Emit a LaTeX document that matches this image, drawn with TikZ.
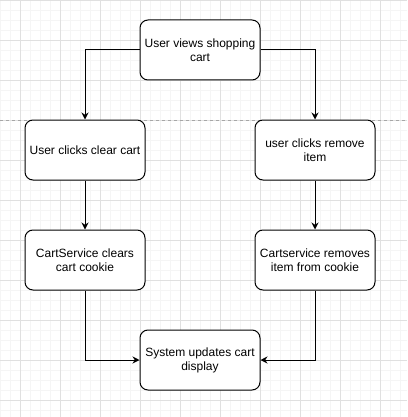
\documentclass[tikz,border=0pt]{standalone}
\usepackage{fontspec}
\setmainfont{Liberation Sans}
\usetikzlibrary{arrows.meta}

\tikzset{
	stepnode/.style={draw, fill=white, rectangle, rounded corners=8pt, line width=1pt,
		minimum width=120pt, minimum height=60pt, align=center, inner sep=2pt,
		font=\fontsize{12}{14}\selectfont},
	flow/.style={line width=1pt, -{Stealth[length=7pt,width=7pt]}}
}

\begin{document}
\begin{tikzpicture}[x=1pt, y=-1pt]
\fill[white] (0,0) rectangle (407,417);
\useasboundingbox (0,0) rectangle (407,417);
% grid
\foreach \g in {0,10,...,400}
	\draw[color=black!4, line width=0.5pt] (\g,0) -- (\g,417);
\foreach \g in {0,10,...,410}
	\draw[color=black!4, line width=0.5pt] (0,\g) -- (407,\g);
\foreach \g in {20,60,...,400}
	\draw[color=black!12, line width=0.7pt] (\g,0) -- (\g,417);
\foreach \g in {0,40,...,400}
	\draw[color=black!12, line width=0.7pt] (0,\g) -- (407,\g);
\draw[color=black!35, dashed, line width=0.6pt] (0,120) -- (407,120);

\node[stepnode] (view) at (200,50) {User views shopping\\cart};
\node[stepnode] (clear) at (85,150) {User clicks clear cart};
\node[stepnode] (remove) at (315,150) {user clicks remove\\item};
\node[stepnode] (clears) at (85,260) {CartService clears\\cart cookie};
\node[stepnode] (removes) at (315,260) {Cartservice removes\\item from cookie};
\node[stepnode] (update) at (200,360) {System updates cart\\display};

	\draw[flow] (view.west) -| (clear.north);
	\draw[flow] (view.east) -| (remove.north);
	\draw[flow] (clear) -- (clears);
	\draw[flow] (remove) -- (removes);
	\draw[flow] (clears.south) |- (update.west);
	\draw[flow] (removes.south) |- (update.east);
\end{tikzpicture}
\end{document}
